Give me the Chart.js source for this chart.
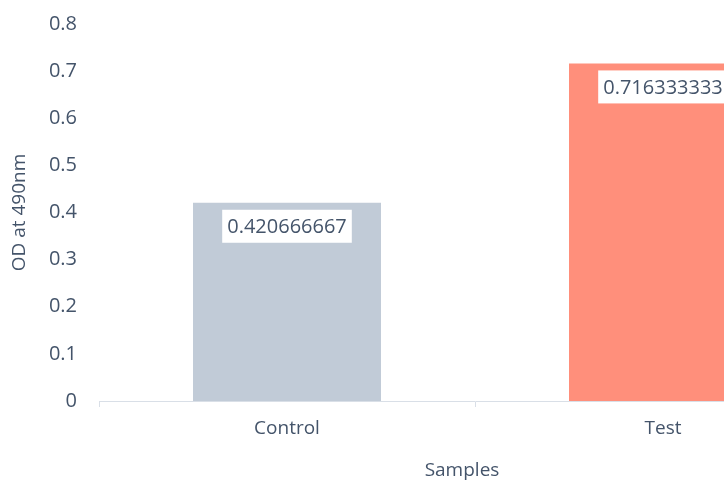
<!DOCTYPE html>
<html>
<head>
<meta charset="utf-8">
<script src="https://cdn.jsdelivr.net/npm/chart.js@4/dist/chart.umd.min.js"></script>
<style>
  html, body { margin: 0; padding: 0; background: #ffffff; overflow: hidden; }
  #wrap { position: relative; width: 880px; height: 480px; }
</style>
</head>
<body>
<div id="wrap"><canvas id="chart"></canvas></div>
<script>
// Absorbance readings per sample group
const categories = ['Control', 'Test'];
const odValues = [0.420666667, 0.716333333];
const barColors = ['#c1cbd7', '#ff8f7b'];
const yTickLabels = ['0', '0.1', '0.2', '0.3', '0.4', '0.5', '0.6', '0.7', '0.8'];
const yTitle = 'OD at 490nm';
const xTitle = 'Samples';

const TEXT = '#44546a';
const FONT = '"Open Sans", "Noto Sans", sans-serif';

// White value boxes just under each bar's top edge
const valueBoxes = {
  id: 'valueBoxes',
  afterDatasetsDraw(chart) {
    const ctx = chart.ctx;
    const meta = chart.getDatasetMeta(0);
    ctx.save();
    ctx.font = '20px ' + FONT;
    ctx.textAlign = 'center';
    ctx.textBaseline = 'middle';
    meta.data.forEach((bar, i) => {
      const text = String(odValues[i]);
      const w = ctx.measureText(text).width;
      const boxTop = bar.y + 7;
      const boxH = 33;
      ctx.fillStyle = '#ffffff';
      ctx.fillRect(bar.x - w / 2 - 5, boxTop, w + 10, boxH);
      ctx.fillStyle = TEXT;
      ctx.fillText(text, bar.x, boxTop + boxH / 2 + 1);
    });
    ctx.restore();
  }
};

// Axis title under the category labels
const xAxisTitle = {
  id: 'xAxisTitle',
  afterDraw(chart) {
    const ctx = chart.ctx;
    const area = chart.chartArea;
    ctx.save();
    ctx.font = '19px ' + FONT;
    ctx.fillStyle = TEXT;
    ctx.textAlign = 'center';
    ctx.textBaseline = 'middle';
    ctx.fillText(xTitle, (area.left + area.right) / 2 - 13, 471);
    ctx.restore();
  }
};

new Chart(document.getElementById('chart'), {
  type: 'bar',
  data: {
    labels: categories,
    datasets: [{
      data: odValues,
      backgroundColor: barColors,
      borderWidth: 0,
      barPercentage: 0.5,
      categoryPercentage: 1.0
    }]
  },
  options: {
    responsive: true,
    maintainAspectRatio: false,
    animation: false,
    layout: { padding: { top: 24, right: 29, left: 0, bottom: 0 } },
    plugins: {
      legend: { display: false },
      tooltip: { enabled: false }
    },
    scales: {
      x: {
        grid: {
          display: true,
          drawOnChartArea: false,
          drawTicks: true,
          tickLength: 6,
          color: '#d9dfe7',
          offset: true
        },
        border: { display: true, color: '#d9dfe7', width: 1 },
        ticks: {
          color: TEXT,
          font: { family: FONT, size: 19 },
          padding: 10
        },
        afterFit(scale) { scale.height = 79; }
      },
      y: {
        min: 0,
        max: 0.8,
        grid: { display: false, drawTicks: false },
        border: { display: false },
        ticks: {
          stepSize: 0.1,
          color: TEXT,
          font: { family: FONT, size: 20 },
          padding: 22,
          callback: (v, i) => yTickLabels[i]
        },
        title: {
          display: true,
          text: yTitle,
          color: TEXT,
          font: { family: FONT, size: 19 },
          padding: { top: 8, bottom: 0 }
        },
        afterFit(scale) {
          scale.width = 99;
          scale.paddingTop = 0;
          scale.paddingBottom = 0;
        }
      }
    }
  },
  plugins: [valueBoxes, xAxisTitle]
});
</script>
</body>
</html>
